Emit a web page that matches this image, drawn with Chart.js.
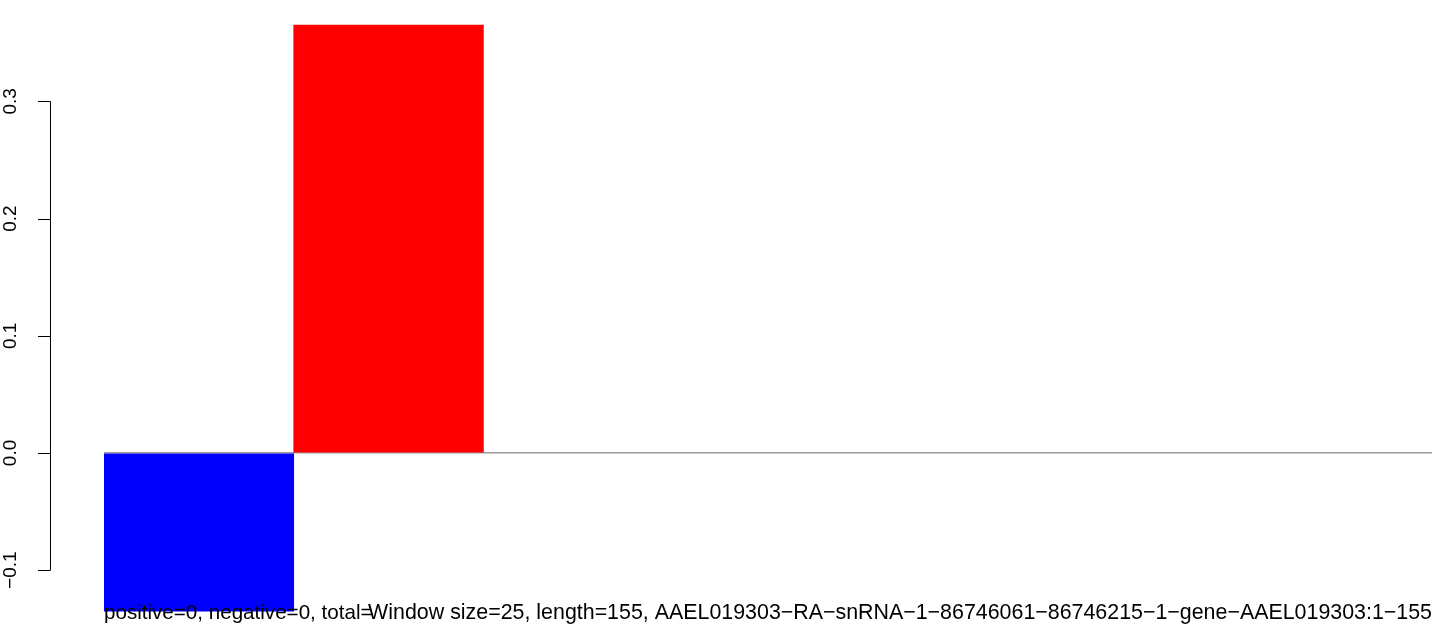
<!DOCTYPE html>
<html>
<head>
<meta charset="utf-8">
<script src="https://cdn.jsdelivr.net/npm/chart.js@4/dist/chart.umd.min.js"></script>
<style>
  html, body { margin: 0; padding: 0; background: #fff; }
  canvas { display: block; }
</style>
</head>
<body>
<canvas id="windowChart" width="1452" height="644"></canvas>
<script>
// Window bins (155 nt, window size 25 -> 7 windows)
const windows = ["1", "2", "3", "4", "5", "6", "7"];
const scores = [-0.135, 0.365, 0, 0, 0, 0, 0];
const yTicks = [-0.1, 0.0, 0.1, 0.2, 0.3];
const leftNote = "positive=0, negative=0, total=";
const rightNote = "Window size=25, length=155, AAEL019303\u2212RA\u2212snRNA\u22121\u221286746061\u221286746215\u22121\u2212gene\u2212AAEL019303:1\u2212155";

const FONT = "'Liberation Sans', Arial, Helvetica, sans-serif";

// colour by sign, empty windows draw nothing
function barColor(v) {
    if (v < 0) return "#0000ff";
    if (v > 0) return "#ff0000";
    return "rgba(0,0,0,0)";
}

// axis line + tick marks drawn R-style, away from the plot region
const rAxis = {
    id: "rAxis",
    afterDraw(chart) {
        const ctx = chart.ctx;
        const y = chart.scales.y;
        const ax = chart.chartArea.left - 54;
        ctx.save();
        ctx.strokeStyle = "#000";
        ctx.lineWidth = 1;
        ctx.beginPath();
        ctx.moveTo(ax + 0.5, y.getPixelForValue(yTicks[0]));
        ctx.lineTo(ax + 0.5, y.getPixelForValue(yTicks[yTicks.length - 1]));
        yTicks.forEach(v => {
            const py = Math.round(y.getPixelForValue(v)) + 0.5;
            ctx.moveTo(ax + 0.5, py);
            ctx.lineTo(ax - 12, py);
        });
        ctx.stroke();

        // notes under the bars (they overlap, as in the original)
        ctx.fillStyle = "#000";
        ctx.textBaseline = "alphabetic";
        ctx.font = "20.6px " + FONT;
        ctx.textAlign = "left";
        ctx.fillText(leftNote, chart.chartArea.left, 619);
        ctx.font = "21.4px " + FONT;
        ctx.textAlign = "right";
        ctx.fillText(rightNote, chart.chartArea.right, 619);
        ctx.restore();
    }
};

const ctx = document.getElementById("windowChart").getContext("2d");
const chart = new Chart(ctx, {
    type: "bar",
    data: {
        labels: windows,
        datasets: [{
            data: scores,
            backgroundColor: scores.map(barColor),
            borderWidth: 0,
            barPercentage: 1,
            categoryPercentage: 1,
        }],
    },
    options: {
        responsive: false,
        animation: false,
        devicePixelRatio: 1,
        layout: { padding: { top: 0, right: 20, bottom: 0, left: 0 } },
        plugins: {
            legend: { display: false },
            tooltip: { enabled: false },
            title: { display: false },
        },
        scales: {
            x: {
                display: false,
                offset: true,
                grid: { display: false },
            },
            y: {
                min: -0.163,
                max: 0.3865,
                afterBuildTicks: scale => {
                    scale.ticks = yTicks.map(v => ({ value: v }));
                },
                afterFit: scale => {
                    scale.width = 104;
                    scale.paddingTop = 0;
                    scale.paddingBottom = 0;
                },
                border: { display: false },
                grid: {
                    drawTicks: true,
                    tickLength: 74,
                    tickColor: "rgba(0,0,0,0)",
                    drawOnChartArea: true,
                    lineWidth: 1.5,
                    color: c => c.tick && c.tick.value === 0 ? "#999999" : "rgba(0,0,0,0)",
                },
                ticks: {
                    minRotation: 90,
                    maxRotation: 90,
                    crossAlign: "center",
                    padding: 0,
                    color: "#000",
                    font: { family: FONT, size: 19 },
                    callback: v => (v < 0 ? "\u2212" : "") + Math.abs(v).toFixed(1),
                },
            },
        },
    },
    plugins: [rAxis],
});
</script>
</body>
</html>
